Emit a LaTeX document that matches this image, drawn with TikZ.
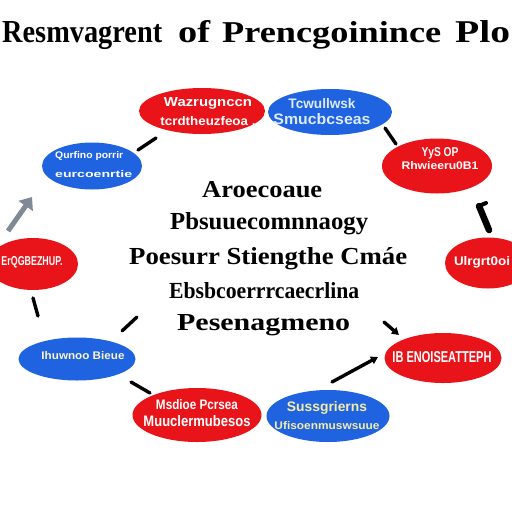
\documentclass[tikz,border=0pt]{standalone}
\usepackage{fontspec}
\setmainfont{Liberation Serif}
\setsansfont{Liberation Sans}
\usetikzlibrary{shapes.geometric,arrows.meta}
\definecolor{cred}{HTML}{E8141A}
\definecolor{cblue}{HTML}{1F63E0}
\definecolor{cgray}{HTML}{7F8A96}
\definecolor{ltblue}{HTML}{DCEBFF}
\definecolor{ltyel}{HTML}{F6ECA8}
\newcommand{\fl}[3]{\resizebox{#1pt}{#2pt}{#3}}
\begin{document}
\begin{tikzpicture}[x=1pt,y=-1pt,
  redov/.style={ellipse, fill=cred, draw=none, inner sep=0pt},
  blueov/.style={ellipse, fill=cblue, draw=none, inner sep=0pt},
  etx/.style={inner sep=0pt, align=center, text=white, font=\sffamily\bfseries\fontsize{9}{#1}\selectfont},
  ttl/.style={anchor=base west, inner sep=0pt, font=\bfseries},
  ctr/.style={anchor=base west, inner sep=0pt, font=\bfseries},
  stub/.style={line width=3.4pt, line cap=round, black},
  tip/.style={-{Triangle[length=7pt,width=8pt]}}]
\useasboundingbox (0,0) rectangle (512,512);
\clip (0,0) rectangle (512,512);
\fill[white] (0,0) rectangle (512,512);

% title
\node[ttl] (t1) at (2,42) {\fl{160}{21}{Resmvagrent}};
\node[ttl] (t2) at (178,42) {\fl{32}{22}{of}};
\node[ttl] (t3) at (222,42) {\fl{219}{21}{Prencgoinince}};
\node[ttl] (t4) at (455,42) {\fl{55}{22}{Plo}};

% centre text
\node[ctr] (c1) at (202,197) {\fl{120}{16}{Aroecoaue}};
\node[ctr] (c2) at (170,229) {\fl{198}{17}{Pbsuuecomnnaogy}};
\node[ctr] (c3) at (129,264) {\fl{278}{17}{Poesurr Stiengthe Cmáe}};
\node[ctr] (c4) at (169,298) {\fl{190}{16}{Ebsbcoerrrcaecrlina}};
\node[ctr] (c5) at (177,330) {\fl{173}{16}{Pesenagmeno}};

% ellipses
\node[redov, minimum width=126pt, minimum height=46pt] (e1) at (202,111) {};
\node[blueov, minimum width=124pt, minimum height=46pt] (e2) at (330,112) {};
\node[blueov, minimum width=100pt, minimum height=47pt] (e3) at (92,166) {};
\node[redov, minimum width=110pt, minimum height=55pt] (e4) at (437,166) {};
\node[redov, minimum width=90pt, minimum height=52pt] (e5) at (33,264) {};
\node[redov, minimum width=86pt, minimum height=51pt] (e6) at (488,263) {};
\node[blueov, minimum width=117pt, minimum height=43pt] (e7) at (77,359) {};
\node[redov, minimum width=117pt, minimum height=50pt] (e8) at (443,358) {};
\node[redov, minimum width=129pt, minimum height=54pt] (e9) at (197,415) {};
\node[blueov, minimum width=123pt, minimum height=52pt] (e10) at (328,416) {};

% ellipse texts
\node[etx=19] (x1) at (208,112) {\fl{88}{9}{Wazrugnccn}\\\fl{95}{9}{tcrdtheuzfeoa .}};
\node[etx=16, text=ltblue] (x2) at (322,112) {\fl{67}{10}{Tcwullwsk}\\\fl{97}{11}{Smucbcseas}};
\node[etx=19, align=left, anchor=west] (x3) at (55,165) {\fl{68}{7}{Qurfino porrir}\\\fl{77}{7}{eurcoenrtie}};
\node[etx=13] (x4) at (440,159) {\fl{37}{9}{YyS OP}\\\fl{77}{8}{Rhwieeru0B1}};
\node[etx=12] (x5) at (32,262) {\fl{61}{9}{ErQGBEZHUP.}};
\node[etx=12] (x6) at (482,262) {\fl{56}{9}{Ulrgrt0oi}};
\node[etx=12, text=ltyel!60!white] (x7) at (83,356) {\fl{83}{8}{Ihuwnoo Bieue}};
\node[etx=12] (x8) at (442,357) {\fl{99}{11}{IB ENOISEATTEPH}};
\node[etx=17] (x9) at (197,413) {\fl{82}{10}{Msdioe Pcrsea}\\\fl{107}{11}{Muuclermubesos}};
\node[etx=18, text=ltyel] (x10) at (327,416) {\fl{80}{10}{Sussgrierns}\\\fl{105}{8}{Ufisoenmuswsuue}};

% connectors (short stubs)
\coordinate (p1a) at (138,150); \coordinate (p1b) at (156,138);
\coordinate (p2a) at (385,128); \coordinate (p2b) at (396,144);
\coordinate (p3a) at (8,231);   \coordinate (p3b) at (32,197);
\coordinate (p4a) at (479,206); \coordinate (p4b) at (489,230); \coordinate (p4c) at (486,203);
\coordinate (p5a) at (33,298);  \coordinate (p5b) at (38,316);
\coordinate (p6a) at (122,331); \coordinate (p6b) at (137,317);
\coordinate (p7a) at (384,322); \coordinate (p7b) at (399,335);
\coordinate (p8a) at (332,382); \coordinate (p8b) at (378,357);
\coordinate (p9a) at (131,382); \coordinate (p9b) at (150,393);

\draw[stub] (p1a) -- (p1b);
\draw[stub] (p2a) -- (p2b);
\draw[line width=5pt, cgray, -{Triangle[length=11pt,width=17pt]}] (p3a) -- (p3b);
\draw[line width=6.5pt, line cap=round, black] (p4a) -- (p4b);
\draw[line width=4pt, line cap=round, black] (p4a) -- (p4c);
\draw[stub] (p5a) -- (p5b);
\draw[stub] (p6a) -- (p6b);
\draw[stub, tip] (p7a) -- (p7b);
\draw[stub, tip] (p8a) -- (p8b);
\draw[stub] (p9a) -- (p9b);
\end{tikzpicture}
\end{document}
